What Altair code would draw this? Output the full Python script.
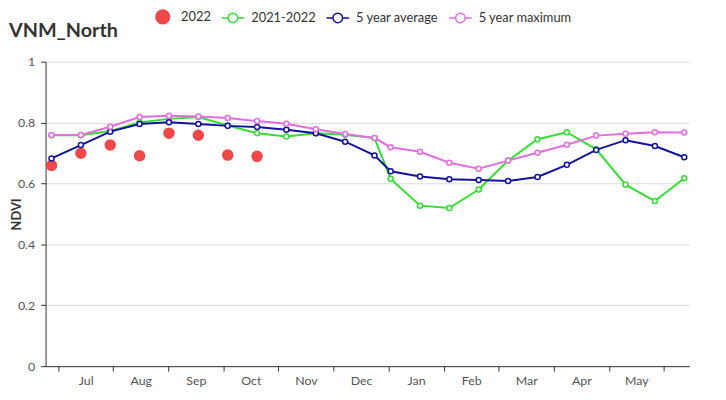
import altair as alt
import pandas as pd

# ---- data ----
month_labels = ["Jul", "Aug", "Sep", "Oct", "Nov", "Dec", "Jan", "Feb", "Mar", "Apr", "May", ""]

# position of each 16-day composite on the month axis (month boundaries are integers)
period_pos = [-0.120, 0.413, 0.946, 1.479, 2.013, 2.546, 3.079, 3.612, 4.145, 4.679,
              5.212, 5.745, 6.038, 6.571, 7.104, 7.637, 8.170, 8.704, 9.237, 9.770,
              10.303, 10.836, 11.369]

ndvi_2022 = [0.659, 0.699, 0.726, 0.691, 0.765, 0.758, 0.693, 0.689]

ndvi_2021_2022 = [0.758, 0.758, 0.772, 0.800, 0.812, 0.818, 0.790, 0.765, 0.754, 0.765,
                  0.760, 0.749, 0.615, 0.527, 0.519, 0.580, 0.675, 0.745, 0.768, 0.712,
                  0.596, 0.542, 0.617]

ndvi_avg5 = [0.682, 0.726, 0.770, 0.795, 0.801, 0.795, 0.789, 0.785, 0.776, 0.765,
             0.737, 0.692, 0.640, 0.623, 0.614, 0.611, 0.608, 0.621, 0.661, 0.710,
             0.742, 0.723, 0.686]

ndvi_max5 = [0.759, 0.759, 0.786, 0.818, 0.822, 0.820, 0.815, 0.805, 0.796, 0.778,
             0.762, 0.749, 0.719, 0.704, 0.668, 0.648, 0.675, 0.701, 0.727, 0.757,
             0.763, 0.768, 0.767]

series_names = ["2022", "2021-2022", "5 year average", "5 year maximum"]
series_colors = ["#f04848", "#33dd33", "#12129c", "#e26ee2"]

rows = []
for name, vals in zip(series_names, [ndvi_2022, ndvi_2021_2022, ndvi_avg5, ndvi_max5]):
    for p, v in zip(period_pos, vals):
        rows.append({"series": name, "x": p, "ndvi": v})
df = pd.DataFrame(rows)

FONT = "Lato"

label_js = "[" + ",".join("'%s'" % m for m in month_labels) + "][datum.value]"

x_enc = alt.X(
    "x:Q",
    scale=alt.Scale(domain=[-0.228, 11.461], nice=False, zero=False),
    axis=alt.Axis(
        values=list(range(len(month_labels))),
        labelExpr=label_js,
        labelOffset=27.85,
        grid=False,
        title=None,
        tickSize=5,
        labelPadding=4,
        labelFontSize=12.5,
        labelFont=FONT,
        labelColor="#555",
        domainColor="#333",
        tickColor="#333",
    ),
)
y_enc = alt.Y(
    "ndvi:Q",
    scale=alt.Scale(domain=[0, 1], nice=False),
    axis=alt.Axis(
        values=[0, 0.2, 0.4, 0.6, 0.8, 1],
        format="~g",
        title="NDVI",
        titleFont=FONT,
        titleFontSize=13,
        titleFontWeight="bold",
        titleColor="#333",
        titleX=-22,
        grid=True,
        gridColor="#dcdcdc",
        tickSize=5,
        labelPadding=6,
        labelFontSize=12.5,
        labelFont=FONT,
        labelColor="#555",
        domainColor="#333",
        tickColor="#333",
    ),
)

base = alt.Chart(df).encode(x=x_enc, y=y_enc)

layers = []
# 2022 dots
layers.append(
    base.transform_filter(alt.datum.series == series_names[0])
    .mark_circle(size=135, opacity=1, color=series_colors[0])
)
for name, color in zip(series_names[1:], series_colors[1:]):
    sub = base.transform_filter(alt.datum.series == name)
    layers.append(sub.mark_line(color=color, strokeWidth=2))
    layers.append(
        sub.mark_point(shape="circle", size=26, filled=False, fill="white",
                       stroke=color, strokeWidth=1.5, opacity=1)
    )

# legend-only layer
filled_sym = "M-0.6,0A0.6,0.6,0,1,1,0.6,0A0.6,0.6,0,1,1,-0.6,0Z"
open_sym = "M-1,0L-0.42,0M0.42,0L1,0M-0.42,0A0.42,0.42,0,1,1,0.42,0A0.42,0.42,0,1,1,-0.42,0Z"
leg = alt.Legend(
    title=None,
    orient="none",
    direction="horizontal",
    legendX=106,
    legendY=-58,
    padding=0,
    symbolSize=529,
    symbolStrokeWidth=1.5,
    symbolOpacity=1,
    labelFont=FONT,
    labelFontSize=13,
    labelColor="#333",
    labelOffset=6,
    columnPadding=7,
)
legend_df = pd.DataFrame({"series": series_names})
legend_layer = alt.Chart(legend_df).mark_point(filled=True, opacity=0).encode(
    x=alt.value(0),
    y=alt.value(0),
    shape=alt.Shape("series:N", sort=series_names,
                    scale=alt.Scale(domain=series_names,
                                    range=[filled_sym, open_sym, open_sym, open_sym]),
                    legend=leg),
    fill=alt.Fill("series:N", sort=series_names,
                  scale=alt.Scale(domain=series_names,
                                  range=[series_colors[0], "white", "white", "white"]),
                  legend=leg),
    stroke=alt.Stroke("series:N", sort=series_names,
                      scale=alt.Scale(domain=series_names, range=series_colors),
                      legend=leg),
)
layers.append(legend_layer)

chart = alt.layer(*layers).properties(
    width=651,
    height=308,
    autosize=alt.AutoSizeParams(type="none"),
    padding={"left": 38, "top": 52, "right": 29, "bottom": 32},
    title=alt.TitleParams(
        text="VNM_North",
        anchor="start",
        frame="group",
        orient="top",
        font=FONT,
        fontSize=20,
        fontWeight="bold",
        color="#333",
        dx=-37,
        dy=53,
        baseline="alphabetic",
        offset=0,
    ),
).configure_view(stroke=None)

chart.save("out.html", embed_options={"renderer": "svg", "actions": False})
